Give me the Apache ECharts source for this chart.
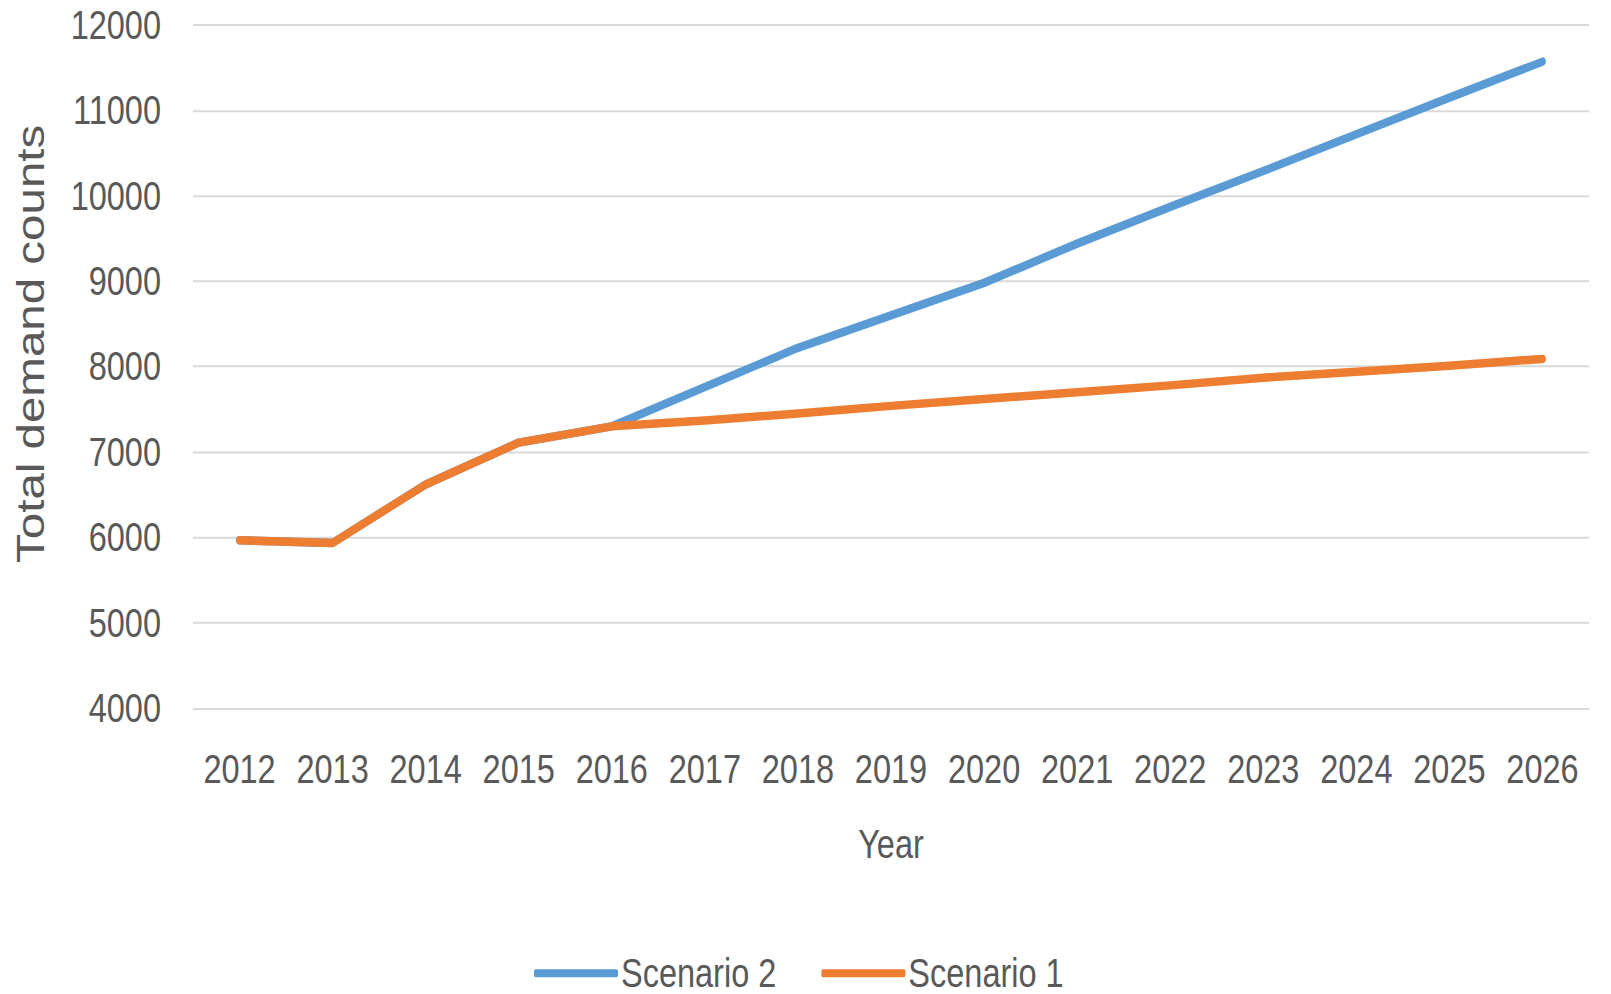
<!DOCTYPE html>
<html>
<head>
<meta charset="utf-8">
<title>Total demand counts by scenario</title>
<script src="https://cdn.jsdelivr.net/npm/echarts@6/dist/echarts.min.js"></script>
<style>
  html, body { margin: 0; padding: 0; background: #ffffff; }
  #frame { position: relative; width: 1611px; height: 994px; overflow: hidden; background: #ffffff; }
  /* The chart is laid out at 1611x795 and stretched to the full 994px height */
  #chart {
    position: absolute;
    left: 0;
    top: 0;
    width: 1611px;
    height: 795px;
    transform: scaleY(1.2503);
    transform-origin: 0 0;
  }
</style>
</head>
<body>
<div id="frame"><div id="chart"></div></div>
<script>
// Years on the horizontal axis
const years = ['2012', '2013', '2014', '2015', '2016', '2017', '2018', '2019',
               '2020', '2021', '2022', '2023', '2024', '2025', '2026'];

// Total demand counts per scenario
const scenario2 = [5965, 5935, 6620, 7110, 7300, 7760, 8220, 8600,
                   8980, 9440, 9870, 10290, 10720, 11150, 11570];
const scenario1 = [5965, 5935, 6620, 7110, 7300, 7370, 7450, 7540,
                   7620, 7700, 7780, 7870, 7940, 8010, 8090];

// Value axis range
const yMin = 4000;
const yMax = 12000;
const yStep = 1000;

const textColor = '#595959';
const font = '"Liberation Sans", Arial, sans-serif';
const fontSize = 32.5;

const chart = echarts.init(document.getElementById('chart'), null, { renderer: 'svg' });

chart.setOption({
  animation: false,
  backgroundColor: '#ffffff',
  grid: { left: 193, right: 22, top: 20, bottom: 228.6, containLabel: false },
  legend: {
    top: 762,
    left: 534,
    padding: 0,
    itemWidth: 84,
    itemHeight: 6.4,
    itemGap: 45,
    icon: 'roundRect',
    textStyle: {
      color: textColor, fontFamily: font, fontSize: fontSize,
      lineHeight: 28, padding: [0, 0, 0, -2]
    },
    data: ['Scenario 2', 'Scenario 1']
  },
  xAxis: {
    type: 'category',
    data: years,
    boundaryGap: true,
    name: 'Year',
    nameLocation: 'middle',
    nameGap: 92,
    nameTextStyle: { color: textColor, fontFamily: font, fontSize: fontSize },
    axisLine: { show: false },
    axisTick: { show: false },
    axisLabel: { color: textColor, fontFamily: font, fontSize: fontSize, margin: 32, interval: 0 }
  },
  yAxis: {
    type: 'value',
    min: yMin,
    max: yMax,
    interval: yStep,
    axisLine: { show: false },
    axisTick: { show: false },
    axisLabel: {
      color: textColor, fontFamily: font, fontSize: fontSize, margin: 32,
      formatter: (v) => String(v)
    },
    splitLine: { lineStyle: { color: '#d9d9d9', width: 1.6 } }
  },
  graphic: [{
    type: 'text',
    x: 31,
    y: 275,
    rotation: Math.PI / 2,
    style: {
      text: 'Total demand counts',
      fill: textColor,
      font: '38px "Liberation Sans", Arial, sans-serif',
      textAlign: 'center',
      textVerticalAlign: 'middle'
    }
  }],
  series: [
    {
      name: 'Scenario 2',
      type: 'line',
      data: scenario2,
      symbol: 'none',
      color: '#5b9bd5',
      lineStyle: { width: 6.8, cap: 'round', join: 'round' },
      z: 2
    },
    {
      name: 'Scenario 1',
      type: 'line',
      data: scenario1,
      symbol: 'none',
      color: '#ed7d31',
      lineStyle: { width: 6.8, cap: 'round', join: 'round' },
      z: 3
    }
  ]
});
</script>
</body>
</html>
